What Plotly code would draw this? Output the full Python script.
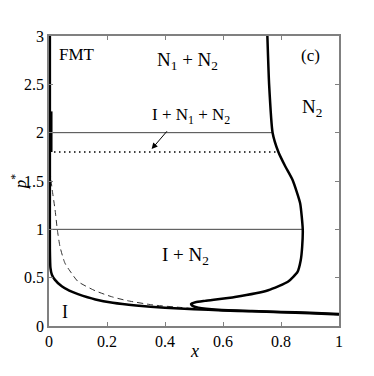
import plotly.graph_objects as go

# Isotropic (I) boundary: thick solid curve (vertical near x=0, then down to the right)
i_x = [0.003, 0.003, 0.003, 0.005, 0.01, 0.02, 0.044, 0.07, 0.1, 0.16, 0.22, 0.3, 0.4, 0.5, 0.6, 0.7, 0.8, 0.9, 1.0]
i_p = [3.0, 1.5, 0.8, 0.6, 0.53, 0.48, 0.41, 0.365, 0.33, 0.275, 0.24, 0.212, 0.189, 0.173, 0.161, 0.152, 0.143, 0.133, 0.12]

# N2 boundary: thick solid curve with bulge and loop
n2_x = [0.753, 0.759, 0.771, 0.791, 0.815, 0.840, 0.866, 0.875, 0.873, 0.868, 0.857, 0.825, 0.756, 0.641,
        0.538, 0.505, 0.49, 0.495, 0.515, 0.584, 0.7, 0.8, 0.9, 1.0]
n2_p = [3.0, 2.5, 2.0, 1.8, 1.65, 1.51, 1.27, 1.0, 0.82, 0.68, 0.56, 0.46, 0.37, 0.30,
        0.26, 0.245, 0.228, 0.208, 0.19, 0.168, 0.155, 0.146, 0.136, 0.123]

# FMT dashed curve
fmt_x = [0.003, 0.011, 0.021, 0.029, 0.038, 0.055, 0.078, 0.10, 0.159, 0.216, 0.27, 0.36, 0.45, 0.5]
fmt_p = [1.61, 1.41, 1.2, 0.99, 0.82, 0.65, 0.545, 0.46, 0.365, 0.303, 0.262, 0.217, 0.193, 0.18]

# short thick segment near x=0
seg_x = [0.007, 0.007]
seg_p = [2.22, 1.8]

# thin horizontal tie lines (pressure, x end)
tie_p = [2.0, 1.0]
tie_x_end = [0.771, 0.875]

# dotted triple line
dot_p = 1.8
dot_x_end = 0.791

x_ticks = [0, 0.2, 0.4, 0.6, 0.8, 1]
x_tick_labels = ["0", "0.2", "0.4", "0.6", "0.8", "1"]
y_ticks = [0, 0.5, 1, 1.5, 2, 2.5, 3]
y_tick_labels = ["0", "0.5", "1", "1.5", "2", "2.5", "3"]

FONT = "Times New Roman, Liberation Serif, serif"
PLUS = " + "

fig = go.Figure()
for p, xe in zip(tie_p, tie_x_end):
    fig.add_trace(go.Scatter(x=[0, xe], y=[p, p], mode="lines",
                             line=dict(color="#444444", width=1)))
fig.add_trace(go.Scatter(x=[0, dot_x_end], y=[dot_p, dot_p], mode="lines",
                         line=dict(color="black", width=1.5, dash="1.5px,3.5px")))
fig.add_trace(go.Scatter(x=fmt_x, y=fmt_p, mode="lines",
                         line=dict(color="#333333", width=1, dash="6px,4px", shape="spline", smoothing=0.6)))
fig.add_trace(go.Scatter(x=i_x, y=i_p, mode="lines",
                         line=dict(color="black", width=2.5, shape="spline", smoothing=0.4)))
fig.add_trace(go.Scatter(x=n2_x, y=n2_p, mode="lines",
                         line=dict(color="black", width=2.5, shape="spline", smoothing=0.5)))
fig.add_trace(go.Scatter(x=seg_x, y=seg_p, mode="lines",
                         line=dict(color="black", width=3)))

ann = [
    dict(x=0.028, y=2.81, text="FMT", xanchor="left", size=17),
    dict(x=0.476, y=2.74, text="N<sub>1</sub>" + PLUS + "N<sub>2</sub>", size=19),
    dict(x=0.9, y=2.8, text="(c)", size=17),
    dict(x=0.906, y=2.26, text="N<sub>2</sub>", size=19),
    dict(x=0.491, y=2.17, text="I" + PLUS + "N<sub>1</sub>" + PLUS + "N<sub>2</sub>", size=17),
    dict(x=0.47, y=0.72, text="I" + PLUS + "N<sub>2</sub>", size=19),
    dict(x=0.055, y=0.14, text="I", size=18),
]
for a in ann:
    fig.add_annotation(x=a["x"], y=a["y"], text=a["text"], showarrow=False,
                       xanchor=a.get("xanchor", "center"), yanchor="middle",
                       font=dict(family=FONT, size=a["size"], color="black"))
fig.add_annotation(x=0.354, y=1.83, ax=0.411, ay=2.03, axref="x", ayref="y",
                   text="", showarrow=True, arrowhead=2, arrowsize=1.2, arrowwidth=1, arrowcolor="black")
# x-axis title placed a bit closer than plotly's default title offset
fig.add_annotation(x=0.5, y=0, xref="paper", yref="paper", yshift=-25, text="<i>x</i>",
                   showarrow=False, xanchor="center", yanchor="middle",
                   font=dict(family=FONT, size=18, color="black"))

axis_common = dict(showline=True, linecolor="#808080", linewidth=1.5, mirror="ticks",
                   ticks="inside", ticklen=4, tickcolor="#808080", showgrid=False, zeroline=False,
                   automargin=False,
                   tickfont=dict(family=FONT, size=16, color="black"))
fig.update_xaxes(range=[0, 1], tickvals=x_ticks, ticktext=x_tick_labels, **axis_common)
fig.update_yaxes(range=[0, 3], tickvals=y_ticks, ticktext=y_tick_labels,
                 title=dict(text="<i>p</i><sup>*</sup>", font=dict(family=FONT, size=17, color="black")),
                 **axis_common)
# page body adds an 8px offset; compensate so the plot area lands where the reference has it
fig.update_layout(width=366, height=368, margin=dict(l=41, r=35, t=28, b=50),
                  showlegend=False, plot_bgcolor="white", paper_bgcolor="white")
fig.write_html("out.html")
